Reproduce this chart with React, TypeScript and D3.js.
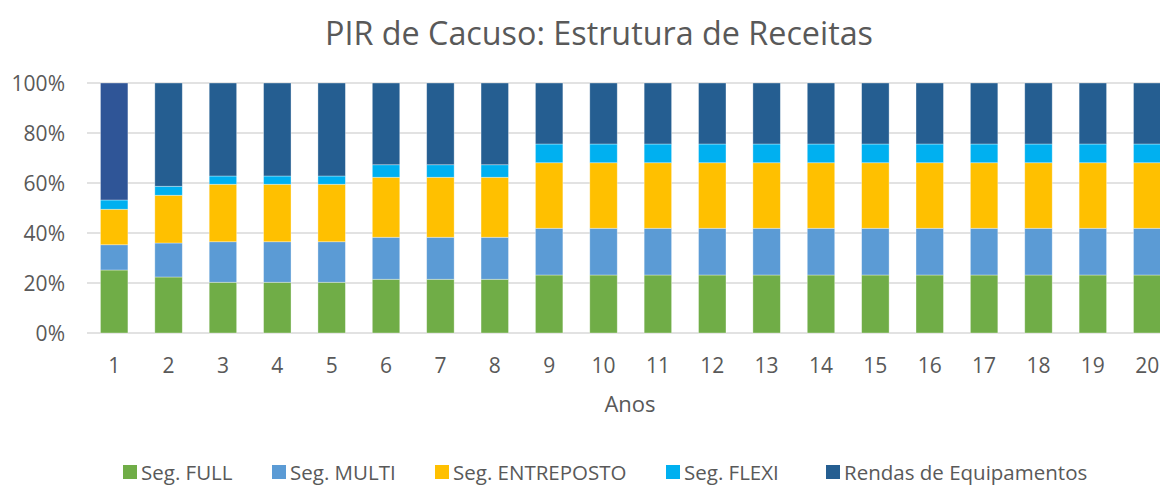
import React from "react";
import * as d3 from "d3";

const years = ["1","2","3","4","5","6","7","8","9","10","11","12","13","14","15","16","17","18","19","20"];
const segFull =   [25.2,22.4,20.3,20.3,20.3,21.5,21.5,21.5,23.2,23.2,23.2,23.2,23.2,23.2,23.2,23.2,23.2,23.2,23.2,23.2];
const segMulti =  [10.1,13.6,16.2,16.2,16.2,16.8,16.8,16.8,18.7,18.7,18.7,18.7,18.7,18.7,18.7,18.7,18.7,18.7,18.7,18.7];
const segEntre =  [14.2,19.1,23.0,23.0,23.0,24.0,24.0,24.0,26.2,26.2,26.2,26.2,26.2,26.2,26.2,26.2,26.2,26.2,26.2,26.2];
const segFlexi =  [3.7,3.6,3.3,3.3,3.3,5.0,5.0,5.0,7.5,7.5,7.5,7.5,7.5,7.5,7.5,7.5,7.5,7.5,7.5,7.5];
const rendas =    [46.8,41.3,37.2,37.2,37.2,32.7,32.7,32.7,24.4,24.4,24.4,24.4,24.4,24.4,24.4,24.4,24.4,24.4,24.4,24.4];
const seriesNames = ["Seg. FULL", "Seg. MULTI", "Seg. ENTREPOSTO", "Seg. FLEXI", "Rendas de Equipamentos"];
const colors = ["#70AD47", "#5B9BD5", "#FFC000", "#00B0F0", "#255E91"];
const firstBarRendasColor = "#2F5597";
const yTicks = [0, 20, 40, 60, 80, 100];
const legendX = [123, 272, 435, 666, 826];

export default function App() {
  const W = 1160, H = 485;
  const left = 87, bandW = 54.37;
  const top = 83, bottom = 333;
  const x = d3.scaleBand<string>().domain(years).range([left, left + bandW * years.length]).paddingInner(0.495).paddingOuter(0.2475);
  const y = d3.scaleLinear().domain([0, 100]).range([bottom, top]);
  const table = years.map((yr, i) => ({
    year: yr,
    s0: segFull[i], s1: segMulti[i], s2: segEntre[i], s3: segFlexi[i], s4: rendas[i],
  }));
  const keys = ["s0", "s1", "s2", "s3", "s4"];
  const stack = d3.stack<any>().keys(keys).offset(d3.stackOffsetExpand);
  const layers = stack(table);
  const font = "'Open Sans', sans-serif";
  const grey = "#595959";
  return (
    <svg width={W} height={H} style={{ position: "absolute", left: 0, top: 0, background: "#fff" }} fontFamily={font}>
      <rect width={W} height={H} fill="#fff" />
      <text x={599} y={45} textAnchor="middle" fontSize={32.3} fill={grey}>PIR de Cacuso: Estrutura de Receitas</text>
      {yTicks.map((t) => (
        <g key={t}>
          <line x1={left} x2={W} y1={y(t)} y2={y(t)} stroke="#d9d9d9" strokeWidth={1.5} />
          <text x={65} y={y(t) + 8} textAnchor="end" fontSize={21} fill={grey}>{t}%</text>
        </g>
      ))}
      {layers.map((layer, li) => (
        <g key={li}>
          {layer.map((d, i) => (
            <rect
              key={i}
              x={x(years[i])}
              width={x.bandwidth()}
              y={y(d[1] * 100)}
              height={y(d[0] * 100) - y(d[1] * 100)}
              fill={li === 4 && i === 0 ? firstBarRendasColor : colors[li]}
              stroke="#ffffff"
              strokeOpacity={0.45}
              strokeWidth={0.75}
            />
          ))}
        </g>
      ))}
      {years.map((yr) => (
        <text key={yr} x={(x(yr) as number) + x.bandwidth() / 2} y={373} textAnchor="middle" fontSize={21} fill={grey}>{yr}</text>
      ))}
      <text x={630} y={412} textAnchor="middle" fontSize={22} fill={grey}>Anos</text>
      {seriesNames.map((n, i) => (
        <g key={n}>
          <rect x={legendX[i]} y={465} width={14} height={14} fill={colors[i]} />
          <text x={legendX[i] + 18} y={480} fontSize={20.5} fill={grey}>{n}</text>
        </g>
      ))}
    </svg>
  );
}
